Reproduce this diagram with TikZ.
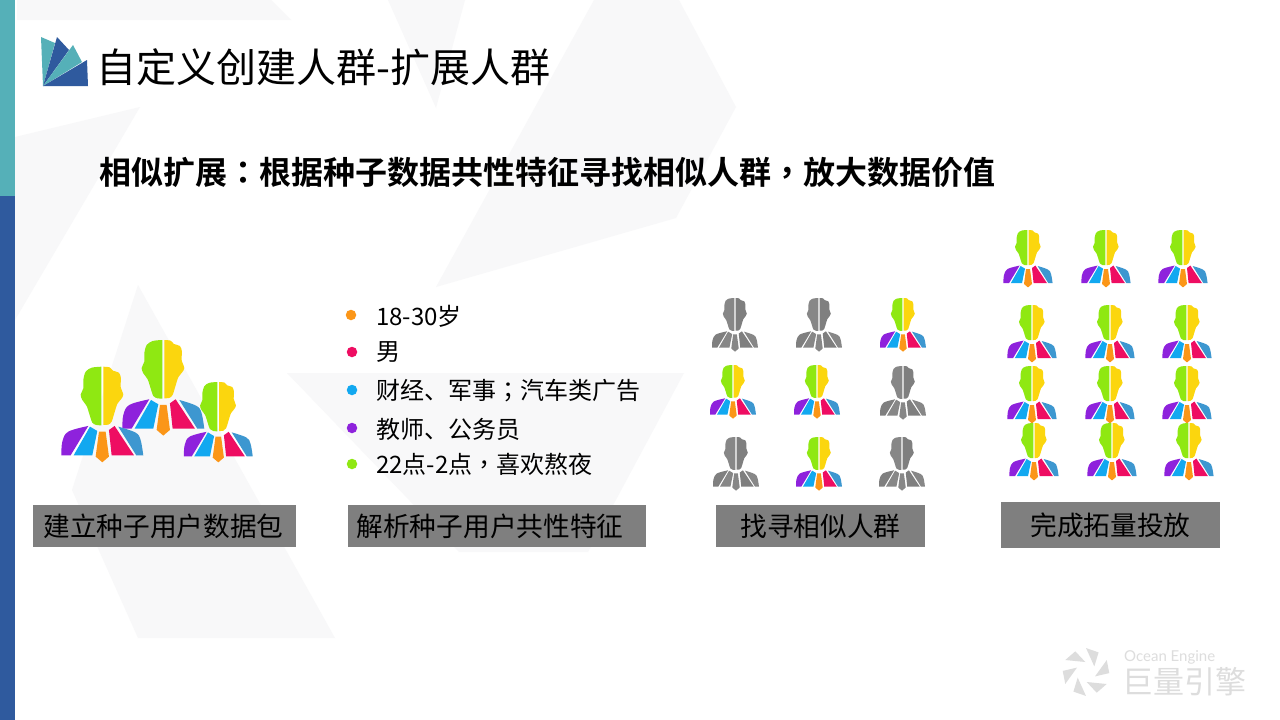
\documentclass[tikz,border=0pt]{standalone}
\usepackage{fontspec}
\setmainfont{Noto Sans CJK SC}[BoldFont={Noto Sans CJK SC Bold}]
\newfontfamily\tcpunct{Noto Sans CJK TC}[BoldFont={Noto Sans CJK TC Bold}]
\newfontfamily\latinfoot{Lato}
\definecolor{wm}{HTML}{F8F8F9}
\definecolor{barteal}{HTML}{55B0B8}
\definecolor{barblue}{HTML}{2F5A9E}
\definecolor{boxgray}{HTML}{7F7F7F}
\definecolor{footgray}{HTML}{DDDDDD}
\definecolor{cgreen}{HTML}{8FE812}
\definecolor{cyellow}{HTML}{FBD60E}
\definecolor{cpurple}{HTML}{8E22DC}
\definecolor{cblue}{HTML}{12A8F0}
\definecolor{corange}{HTML}{FB9618}
\definecolor{ccrimson}{HTML}{EE0D62}
\definecolor{csteel}{HTML}{3D97D0}
\definecolor{gA}{HTML}{7F7F7F}
\definecolor{gB}{HTML}{878787}
\newcommand{\personshape}[7]{%
  \fill[#1] plot[smooth,tension=0.5] coordinates {(-3,0)(-32,3)(-50,15)(-57,40)(-57,65)(-65,84)(-60,100)(-47,118)(-38,145)(-30,168)(-18,175)(-3,176)} -- cycle;
  \fill[#2] plot[smooth,tension=0.5] coordinates {(3,0)(22,2)(32,12)(50,18)(56,35)(55,60)(63,84)(56,98)(45,112)(36,140)(28,165)(18,174)(3,175)} -- cycle;
  \fill[#3] plot[smooth,tension=0.6] coordinates {(-123,266)(-120,225)(-102,195)(-42,178)} -- (-95,266) -- cycle;
  \fill[#4] (-37,180) -- (-15,193) -- (-30,266) -- (-86,266) -- cycle;
  \fill[#5] (-10,195) -- (10,195) -- (20,270) -- (0,287) -- (-20,270) -- cycle;
  \fill[#6] (37,178) -- (95,266) -- (28,266) -- (20,190) -- cycle;
  \fill[#7] plot[smooth,tension=0.6] coordinates {(48,180)(100,198)(115,220)(123,266)} -- (102,266) -- cycle;
}
\newcommand{\personcol}[3]{\begin{scope}[shift={(#1,#2)},scale=#3]\personshape{cgreen}{cyellow}{cpurple}{cblue}{corange}{ccrimson}{csteel}\end{scope}}
\newcommand{\persongray}[3]{\begin{scope}[shift={(#1,#2)},scale=#3]\personshape{gB}{gA}{gA}{gB}{gB}{gA}{gB}\end{scope}}
\newcommand{\pct}[1]{{\tcpunct #1}}
\tikzset{
  wmshape/.style={fill=wm},
  labelbox/.style={fill=boxgray,text=black,inner sep=0pt,font=\fontsize{26.7}{30}\selectfont,minimum height=42pt},
  listtext/.style={anchor=west,inner sep=0pt,font=\fontsize{24}{28}\selectfont},
  listdot/.style={circle,inner sep=0pt,minimum size=10.5pt},
  blade/.style={fill=footgray}
}
\begin{document}
\begin{tikzpicture}[x=1pt,y=-1pt]
\useasboundingbox (0,0) rectangle (1280,720);
\fill[white] (0,0) rectangle (1280,720);
% watermark
\fill[wmshape] (594,0) -- (679,0) -- (736,107) -- (676,218) -- (436,287) -- cycle;
\fill[wmshape] (388,0) -- (465,0) -- (436,108) -- cycle;
\fill[wmshape] (17,0) -- (271,0) -- (291,20) -- (17,20) -- cycle;
\fill[wmshape] (15,137) -- (140,107) -- (15,320) -- cycle;
\fill[wmshape] (138,285) -- (335,638) -- (138,638) -- (72,490) -- cycle;
\fill[wmshape] (287,373) -- (684,373) -- (588,552) -- (459,552) -- cycle;
% side bar
\fill[barteal] (0,0) rectangle (15,196);
\fill[barblue] (0,196) rectangle (15,720);
% logo
\fill[barteal] (41,37) -- (55,43) -- (43,86) -- cycle;
\fill[barblue] (57,37) -- (69,50) -- (43,86) -- cycle;
\fill[barteal] (73,45) -- (82,62) -- (43,86) -- cycle;
\fill[barblue] (87,60) -- (88,86) -- (43,86) -- cycle;
% headings
\node[anchor=west,inner sep=0pt,font=\fontsize{40}{48}\selectfont] (title) at (96,67) {自定义创建人群-扩展人群};
\node[anchor=west,inner sep=0pt,font=\fontsize{32}{40}\selectfont\bfseries] (subtitle) at (99,172) {相似扩展\pct{：}根据种子数据共性特征寻找相似人群\pct{，}放大数据价值};
% seed group
\personcol{163.3}{340}{0.333}
\personcol{102.3}{366.7}{0.333}
\personcol{218.3}{382}{0.28}
% list
\node[listdot,fill=corange] (d1) at (351,315) {};
\node[listdot,fill=ccrimson] (d2) at (352,352) {};
\node[listdot,fill=cblue] (d3) at (352,390) {};
\node[listdot,fill=cpurple] (d4) at (352,428) {};
\node[listdot,fill=cgreen] (d5) at (352,464) {};
\node[listtext] (t1) at (376,316) {18-30岁};
\node[listtext] (t2) at (376,352) {男};
\node[listtext] (t3) at (376,391) {财经、军事\pct{；}汽车类广告};
\node[listtext] (t4) at (376,429) {教师、公务员};
\node[listtext] (t5) at (376,464) {22点-2点\pct{，}喜欢熬夜};
% 3x3 grid
\persongray{735}{298}{0.187}
\persongray{819}{298}{0.187}
\personcol{903}{298}{0.187}
\personcol{733}{365}{0.187}
\personcol{817}{365}{0.187}
\persongray{903}{366}{0.187}
\persongray{736}{437}{0.187}
\personcol{819}{437}{0.187}
\persongray{902}{437}{0.187}
% expanded group
\personcol{1028}{230}{0.2}
\personcol{1106}{230}{0.2}
\personcol{1183}{230}{0.2}
\personcol{1032}{305}{0.2}
\personcol{1110}{305}{0.2}
\personcol{1187}{305}{0.2}
\personcol{1032}{366}{0.2}
\personcol{1110}{366}{0.2}
\personcol{1187}{366}{0.2}
\personcol{1034}{423}{0.2}
\personcol{1112}{423}{0.2}
\personcol{1189}{423}{0.2}
% label boxes
\node[labelbox,minimum width=263pt] (b1) at (164.5,526) {建立种子用户数据包\kern2pt};
\node[labelbox,minimum width=298pt] (b2) at (497,526) {解析种子用户共性特征\kern14pt};
\node[labelbox,minimum width=209pt] (b3) at (820.5,526) {找寻相似人群};
\node[labelbox,minimum width=219pt,minimum height=46pt] (b4) at (1110.5,525) {完成拓量投放};
% footer logo
\foreach \a in {0,60,...,300}{
  \fill[blade,shift={(1086,672)},rotate=\a] (-20.7,-12) -- (-10.7,-20.7) -- (-0.7,-10) -- cycle;
}
\node[anchor=west,inner sep=0pt,text=footgray,font=\latinfoot\fontsize{15}{17}\selectfont] (fe) at (1124,657) {Ocean Engine};
\node[anchor=west,inner sep=0pt,text=footgray,font=\fontsize{31}{34}\selectfont] (fc) at (1122,682) {巨量引擎};
\end{tikzpicture}
\end{document}
